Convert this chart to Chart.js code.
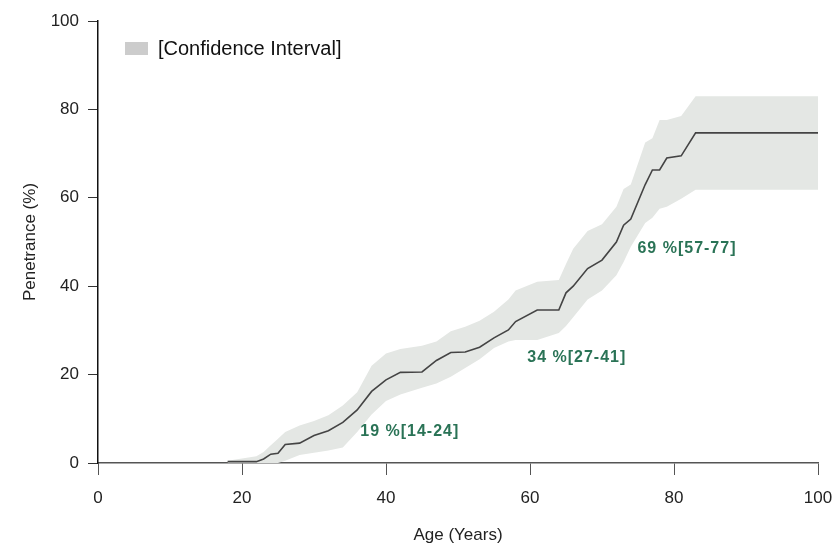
<!DOCTYPE html>
<html>
<head>
<meta charset="utf-8">
<script src="https://cdn.jsdelivr.net/npm/chart.js@4.4.1/dist/chart.umd.min.js"></script>
<style>
  html, body { margin: 0; padding: 0; background: #ffffff; }
  #wrap { width: 835px; height: 548px; }
</style>
</head>
<body>
<div id="wrap"><canvas id="c" width="835" height="548"></canvas></div>
<script>
const ages       = [18, 22, 23, 24, 25, 26, 28, 30, 32, 34, 36, 38, 40, 42, 45, 47, 49, 51, 53, 55, 57, 58, 61, 64, 65, 66, 68, 70, 72, 73, 74, 76, 77, 78, 79, 81, 83, 100];
const penetrance = [0.3, 0.3, 0.9, 2.0, 2.2, 4.2, 4.5, 6.2, 7.3, 9.2, 12.0, 16.2, 18.8, 20.5, 20.6, 23.2, 25.0, 25.1, 26.2, 28.3, 30.1, 32.0, 34.6, 34.6, 38.5, 40.0, 44.0, 45.9, 50.0, 53.8, 55.2, 63.0, 66.3, 66.3, 69.0, 69.5, 74.7, 74.7];
const upperCI    = [0.5, 1.5, 2.5, 4.0, 5.5, 7.0, 8.5, 9.5, 10.8, 13.0, 16.0, 22.0, 24.8, 25.8, 26.5, 27.5, 29.8, 30.8, 32.2, 34.2, 37.0, 39.0, 41.0, 41.4, 45.0, 48.5, 52.5, 54.0, 58.0, 62.0, 63.0, 72.5, 73.5, 77.6, 77.6, 78.5, 83.0, 83.0];
const lowerCI    = [0.0, 0.0, 0.0, 0.0, 0.0, 0.5, 1.8, 2.3, 2.8, 3.5, 7.0, 11.0, 14.0, 15.5, 17.0, 18.0, 19.5, 21.5, 23.5, 26.0, 27.5, 27.8, 27.8, 29.4, 31.0, 33.0, 37.0, 39.0, 42.5, 45.5, 48.9, 54.3, 55.5, 57.5, 58.0, 59.8, 61.8, 61.8];

const xTicks = [0, 20, 40, 60, 80, 100];
const yTicks = [0, 20, 40, 60, 80, 100];

const labelTexts = ["19 %[14-24]", "34 %[27-41]", "69 %[57-77]"];
const labelAges  = [43.3, 66.5, 81.8];
const labelPos   = [7.2, 23.8, 48.6];

const legendText = "[Confidence Interval]";

const FONT = "'Liberation Sans', Arial, Helvetica, sans-serif";
const toXY = (arr) => arr.map((v, i) => ({ x: ages[i], y: v }));

const overlay = {
  id: 'overlay',
  afterDraw(chart) {
    const ctx = chart.ctx;
    const xs = chart.scales.x, ys = chart.scales.y;
    ctx.save();
    // legend
    const lx = chart.chartArea.left + 27;
    const ly = chart.chartArea.top + 28;
    ctx.fillStyle = '#cccccc';
    ctx.fillRect(lx, ly - 7, 23, 13);
    ctx.fillStyle = '#111111';
    ctx.font = '20px ' + FONT;
    ctx.textBaseline = 'middle';
    ctx.textAlign = 'left';
    ctx.fillText(legendText, lx + 33, ly);
    // annotations
    ctx.fillStyle = '#2a7356';
    ctx.font = 'bold 16px ' + FONT;
    ctx.textAlign = 'center';
    try { ctx.letterSpacing = '1px'; } catch (e) {}
    labelTexts.forEach((t, i) => {
      ctx.fillText(t, xs.getPixelForValue(labelAges[i]), ys.getPixelForValue(labelPos[i]));
    });
    ctx.restore();
  }
};

new Chart(document.getElementById('c'), {
  type: 'line',
  data: {
    datasets: [
      {
        label: 'Penetrance',
        data: toXY(penetrance),
        borderColor: '#444444',
        borderWidth: 1.6,
        pointRadius: 0,
        tension: 0,
        fill: false
      },
      {
        label: 'Upper',
        data: toXY(upperCI),
        borderWidth: 0,
        borderColor: 'rgba(0,0,0,0)',
        backgroundColor: '#e4e7e4',
        pointRadius: 0,
        tension: 0,
        fill: '+1'
      },
      {
        label: 'Lower',
        data: toXY(lowerCI),
        borderWidth: 0,
        borderColor: 'rgba(0,0,0,0)',
        pointRadius: 0,
        tension: 0,
        fill: false
      }
    ]
  },
  options: {
    responsive: false,
    animation: false,
    events: [],
    layout: { padding: { left: 0, top: 21, right: 17, bottom: 0 } },
    plugins: {
      legend: { display: false },
      tooltip: { enabled: false },
      title: { display: false }
    },
    scales: {
      x: {
        type: 'linear',
        min: 0, max: 100,
        afterFit(s) { s.height = 85; s.paddingLeft = 0; s.paddingRight = 0; },
        afterBuildTicks(s) { s.ticks = xTicks.map(v => ({ value: v })); },
        border: { display: true, color: '#555555', width: 1.5 },
        grid: { display: true, drawOnChartArea: false, drawTicks: true, tickLength: 12, color: '#555555', lineWidth: 1 },
        ticks: { padding: 13, color: '#222222', font: { family: FONT, size: 17 }, maxRotation: 0 },
        title: { display: true, text: 'Age (Years)', color: '#222222', font: { family: FONT, size: 17 }, padding: { top: 0, bottom: 2 } }
      },
      y: {
        type: 'linear',
        min: 0, max: 100,
        afterFit(s) { s.width = 98; s.paddingTop = 0; s.paddingBottom = 0; },
        afterBuildTicks(s) { s.ticks = yTicks.map(v => ({ value: v })); },
        border: { display: true, color: '#111111', width: 1.5 },
        grid: { display: true, drawOnChartArea: false, drawTicks: true, tickLength: 10, color: '#333333', lineWidth: 1 },
        ticks: { padding: 9, color: '#222222', font: { family: FONT, size: 17 } },
        title: { display: true, text: 'Penetrance (%)', color: '#222222', font: { family: FONT, size: 17 }, padding: { top: 20, bottom: 0 } }
      }
    }
  },
  plugins: [overlay]
});
</script>
</body>
</html>
